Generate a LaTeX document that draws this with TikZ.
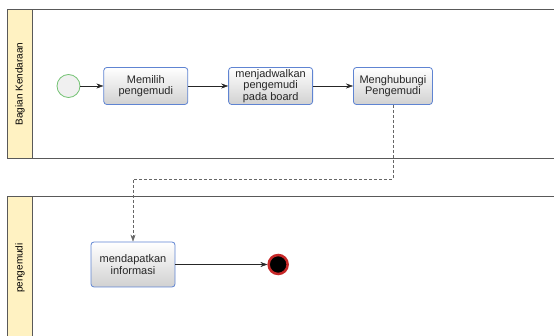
\documentclass[tikz,border=0pt]{standalone}
\usepackage{fontspec}
\setmainfont{Liberation Sans}
\usetikzlibrary{arrows.meta,positioning}
\definecolor{lanefill}{HTML}{FFF2C2}
\definecolor{taskline}{HTML}{5F84D2}
\definecolor{startline}{HTML}{72C272}
\definecolor{endline}{HTML}{C62828}

\begin{document}
\begin{tikzpicture}[
			x=1pt, y=-1pt,
			node distance=40pt,
			every node/.style={font=\fontsize{11}{11.5}\selectfont, text=black!85},
			task/.style={rectangle, rounded corners=3pt, draw=taskline, thick, top color=white, bottom color=black!18, minimum width=84pt, minimum height=37pt, align=center, inner sep=1pt},
			startev/.style={circle, draw=startline, thick, fill=black!6, minimum size=23pt, inner sep=0pt},
			endev/.style={circle, draw=endline, line width=2.5pt, fill=black, minimum size=19pt, inner sep=0pt},
			lane/.style={draw=black!65, thick},
			lanelabel/.style={rotate=90, text=black, font=\fontsize{10}{11}\selectfont},
			flow/.style={draw, black!85, -{Stealth[length=7pt,width=5pt]}},
			msg/.style={draw, black!60, dashed, dash pattern=on 3pt off 2pt, -{Stealth[length=7pt,width=5pt]}}
			]
			\useasboundingbox (0,0) rectangle (554,336);
			
			% 泳道
			\draw[lane, fill=lanefill] (7,9) rectangle (32,158);
			\draw[lane] (32,9) -- (554,9);
			\draw[lane] (32,158) -- (554,158);
			\draw[lane, fill=lanefill] (32,336) -- (7,336) -- (7,196) -- (32,196) -- cycle;
			\draw[lane] (32,196) -- (554,196);
			\node (kendaraan) [lanelabel] at (20,84) {Bagian Kendaraan};
			\node (pengemudi) [lanelabel] at (20,268) {pengemudi};
			
			% 任务节点
			\node (start) [startev] at (68.5,86) {};
			\node (pilih) [task, right=23pt of start] {Memilih\\pengemudi};
			\node (jadwal) [task, right=of pilih] {menjadwalkan\\pengemudi\\pada board};
			\node (hubungi) [task, minimum width=79pt, right=of jadwal] {Menghubungi\\Pengemudi};
			\node (info) [task, minimum height=45pt] at (133,264.5) {mendapatkan\\informasi};
			\node (selesai) [endev, right=92pt of info] {};
			
			% 流程连线
			\draw [flow] (start) -- (pilih);
			\draw [flow] (pilih) -- (jadwal);
			\draw [flow] (jadwal) -- (hubungi);
			\draw [msg] (hubungi.south) -- ++(0,74) -| (info.north);
			\draw [flow] (info) -- (selesai);
			
		\end{tikzpicture}
\end{document}
